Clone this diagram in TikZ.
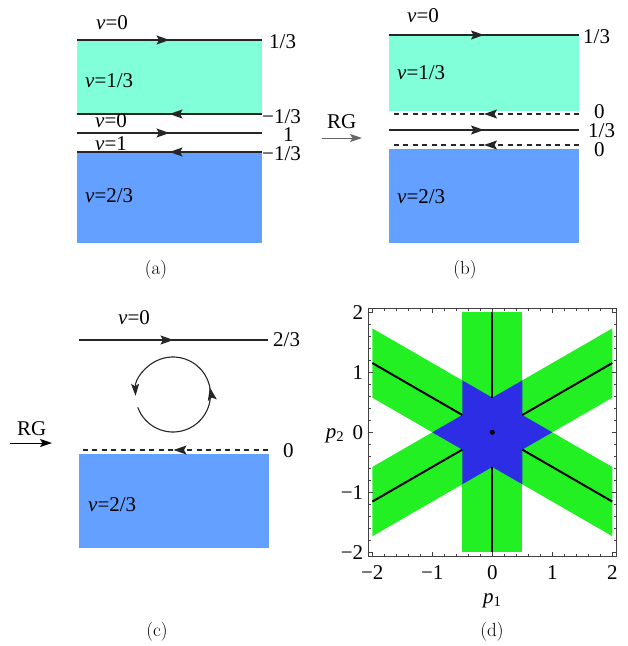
\documentclass[tikz,border=0pt]{standalone}
\usepackage{fontspec}
\newfontfamily\tms{Liberation Serif}
\usepackage{tikz}
\usetikzlibrary{arrows.meta,decorations.markings}

\definecolor{aqua}{RGB}{128,255,216}
\definecolor{skyb}{RGB}{100,160,255}
\definecolor{bandgreen}{RGB}{35,240,35}
\definecolor{starblue}{RGB}{45,45,230}

\tikzset{
  lab/.style={font=\tms\fontsize{21}{23}\selectfont, inner sep=0pt},
  subcap/.style={font=\fontsize{19}{21}\selectfont, inner sep=0pt},
  bline/.style={line width=1.1pt, black!85},
  gap/.style={dash pattern=on 5pt off 4.5pt},
  midflow/.style={postaction={decorate}, decoration={markings,
      mark=at position .5 with {\arrow{Stealth[length=13pt,width=9pt,inset=2.5pt]}}}},
  tip/.style={-{Stealth[length=12pt,width=8pt,inset=2.5pt]}}
}

\begin{document}
\begin{tikzpicture}[x=1pt, y=-1pt]
  \useasboundingbox (0,0) rectangle (628,646);

  % (a)
  \fill[aqua] (77,40) rectangle (262,114);
  \fill[skyb] (77,152) rectangle (262,243);
  \draw[bline,midflow] (77,40) -- (262,40);
  \draw[bline,midflow] (262,114) -- (77,114);
  \draw[bline,midflow] (77,133) -- (262,133);
  \draw[bline,midflow] (262,152) -- (77,152);
  \node[lab, anchor=base west] (a-top) at (96,29) {\textit{ν}=0};
  \node[lab, anchor=base west] (a-c1) at (269,48) {1/3};
  \node[lab, anchor=base west] (a-up) at (85,87) {\textit{ν}=1/3};
  \node[lab, anchor=base west] (a-c2) at (262,123) {−1/3};
  \node[lab, anchor=base west] (a-mid) at (95,127) {\textit{ν}=0};
  \node[lab, anchor=base west] (a-c3) at (283,141) {1};
  \node[lab, anchor=base west] (a-one) at (95,150) {\textit{ν}=1};
  \node[lab, anchor=base west] (a-c4) at (262,160) {−1/3};
  \node[lab, anchor=base west] (a-low) at (85,202) {\textit{ν}=2/3};
  \node[subcap] (a-cap) at (156,270) {(a)};

  % (b)
  \fill[aqua] (389,35) rectangle (579,111);
  \fill[skyb] (389,149) rectangle (579,243);
  \draw[bline,midflow] (389,35) -- (579,35);
  \draw[bline,gap,midflow] (579,114) -- (389,114);
  \draw[bline,midflow] (389,130) -- (579,130);
  \draw[bline,gap,midflow] (579,145) -- (389,145);
  \node[lab, anchor=base west] (b-top) at (407,22) {\textit{ν}=0};
  \node[lab, anchor=base west] (b-c1) at (583,43) {1/3};
  \node[lab, anchor=base west] (b-up) at (397,79) {\textit{ν}=1/3};
  \node[lab, anchor=base west] (b-c2) at (594,118) {0};
  \node[lab, anchor=base west] (b-c3) at (588,137) {1/3};
  \node[lab, anchor=base west] (b-c4) at (594,156) {0};
  \node[lab, anchor=base west] (b-low) at (397,203) {\textit{ν}=2/3};
  \node[lab, anchor=base west] (b-rg) at (327,128) {RG};
  \draw[tip, line width=1pt, black!60] (322,138) -- (362,138);
  \node[subcap] (b-cap) at (465,270) {(b)};

  % (c)
  \draw[bline,midflow] (79,340) -- (268,340);
  \begin{scope}[shift={(173,394.5)}, y=1pt]
    \draw[bline,tip,midflow] (200:37.5) arc[start angle=200, end angle=542, radius=37.5];
  \end{scope}
  \fill[skyb] (79,454) rectangle (269,548);
  \draw[bline,gap,midflow] (268,450) -- (79,450);
  \node[lab, anchor=base west] (c-top) at (118,324) {\textit{ν}=0};
  \node[lab, anchor=base west] (c-c1) at (273,346) {2/3};
  \node[lab, anchor=base west] (c-c2) at (283,457) {0};
  \node[lab, anchor=base west] (c-low) at (88,511) {\textit{ν}=2/3};
  \node[lab, anchor=base west] (c-rg) at (17,435) {RG};
  \draw[tip, line width=1pt] (10,443) -- (52,443);
  \node[subcap] (c-cap) at (157,632) {(c)};

  % (d)
  \begin{scope}[shift={(492.3,432.3)}, x=60pt, y=60pt]
    \fill[bandgreen] (-0.5,-2) rectangle (0.5,2);
    \fill[bandgreen] (-2,-0.5774) -- (2,1.7321) -- (2,0.5774) -- (-2,-1.7321) -- cycle;
    \fill[bandgreen] (-2,1.7321) -- (2,-0.5774) -- (2,-1.7321) -- (-2,0.5774) -- cycle;
    \fill[starblue] (0,0.5774) -- (0.5,0.866) -- (0.5,0.2887) -- (1,0) -- (0.5,-0.2887)
      -- (0.5,-0.866) -- (0,-0.5774) -- (-0.5,-0.866) -- (-0.5,-0.2887) -- (-1,0)
      -- (-0.5,0.2887) -- (-0.5,0.866) -- cycle;
    \draw[line width=2pt] (0,0.5774) -- (0,2) (0,-0.5774) -- (0,-2);
    \draw[line width=2pt] (0.5,0.2887) -- (2,1.1547) (0.5,-0.2887) -- (2,-1.1547);
    \draw[line width=2pt] (-0.5,0.2887) -- (-2,1.1547) (-0.5,-0.2887) -- (-2,-1.1547);
    \fill (0,0) circle (2.5pt);
    \draw[black!75, line width=0.7pt] (-2.07,-2.07) rectangle (2.07,2.07);
    \foreach \t in {-2.0,-1.8,...,2.05} {
      \draw[black!75, line width=0.6pt] (\t,-2.07) -- ++(0,0.04) (\t,2.07) -- ++(0,-0.04)
        (-2.07,\t) -- ++(0.04,0) (2.07,\t) -- ++(-0.04,0);
    }
    \foreach \t/\s in {-2/−2,-1/−1,0/0,1/1,2/2} {
      \draw[black!75, line width=0.6pt] (\t,-2.07) -- ++(0,0.08) (\t,2.07) -- ++(0,-0.08)
        (-2.07,\t) -- ++(0.08,0) (2.07,\t) -- ++(-0.08,0);
      \node[lab, anchor=north] (xt\t) at (\t,-2.22) {\s};
      \node[lab, anchor=east] (yt\t) at (-2.15,\t) {\s};
    }
    \node[lab] (p1) at (0,-2.80) {\textit{p}\textsubscript{1}};
    \node[lab] (p2) at (-2.62,-0.05) {\textit{p}\textsubscript{2}};
  \end{scope}
  \node[subcap] (d-cap) at (492,632) {(d)};
\end{tikzpicture}
\end{document}
